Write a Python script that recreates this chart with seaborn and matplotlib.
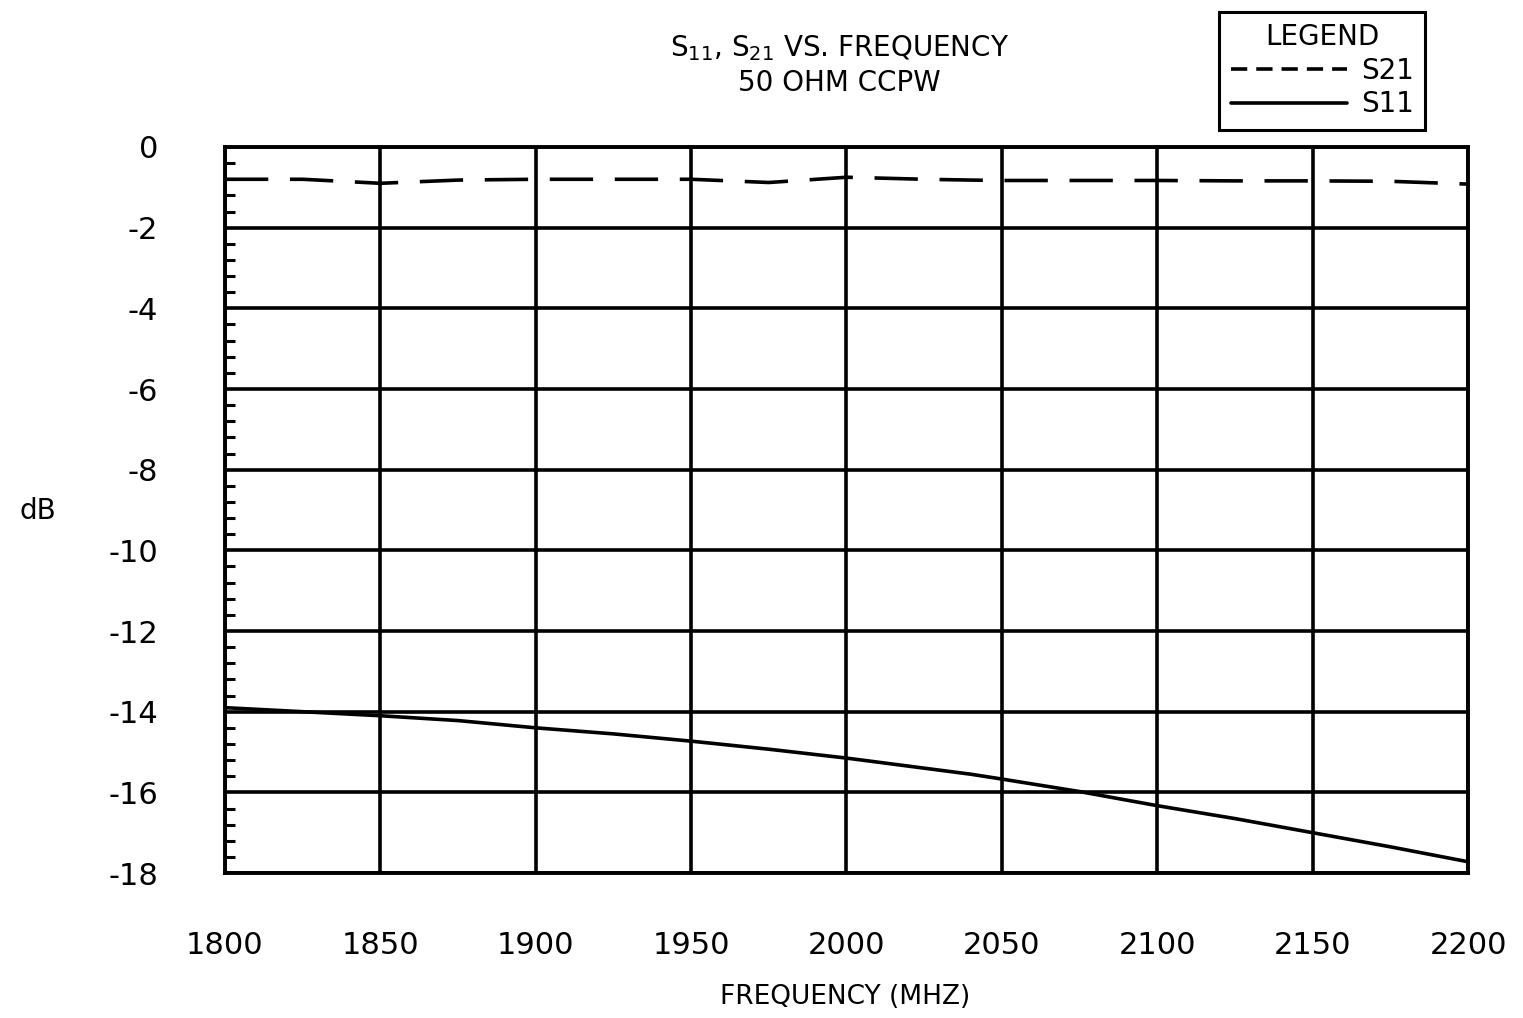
import numpy as np
import pandas as pd
import matplotlib
matplotlib.use("Agg")
import matplotlib.pyplot as plt
import seaborn as sns
from matplotlib.ticker import MultipleLocator

# values
freq = [1800, 1825, 1850, 1875, 1900, 1925, 1950, 1975, 2000, 2025,
        2040, 2050, 2075, 2100, 2125, 2150, 2175, 2200]
s11 = [-13.9, -14.0, -14.1, -14.22, -14.4, -14.55, -14.73, -14.93, -15.15, -15.4,
       -15.55, -15.67, -15.98, -16.33, -16.65, -17.0, -17.35, -17.72]
s21 = [-0.8, -0.8, -0.9, -0.82, -0.8, -0.8, -0.8, -0.88, -0.75, -0.8,
       -0.82, -0.83, -0.83, -0.83, -0.84, -0.84, -0.85, -0.92]

x_ticks = [1800, 1850, 1900, 1950, 2000, 2050, 2100, 2150, 2200]
y_ticks = [0, -2, -4, -6, -8, -10, -12, -14, -16, -18]

sns.set_theme(style="white")
plt.rcParams['font.family'] = ['DejaVu Sans']
plt.rcParams['text.color'] = 'black'
plt.rcParams['xtick.color'] = 'black'
plt.rcParams['ytick.color'] = 'black'
plt.rcParams['axes.labelcolor'] = 'black'

df = pd.DataFrame({'freq': freq, 'S21': s21, 'S11': s11})

fig = plt.figure(figsize=(15.23, 10.18), dpi=100)
ax = fig.add_axes([0.1477, 0.1424, 0.8162, 0.7132])

sns.lineplot(data=df, x='freq', y='S21', ax=ax, color='black', lw=2.6,
             label='S21')
ax.lines[-1].set_dashes([12, 6])
sns.lineplot(data=df, x='freq', y='S11', ax=ax, color='black', lw=2.6,
             label='S11')

ax.set_xlim(1800, 2200)
ax.set_ylim(-18, 0)
ax.set_xticks(x_ticks)
ax.set_yticks(y_ticks)
ax.set_yticklabels([str(v) for v in y_ticks])
ax.yaxis.set_minor_locator(MultipleLocator(0.4))
ax.grid(True, which='major', color='black', lw=2.6)
ax.tick_params(axis='both', which='major', length=0, labelsize=22)
ax.tick_params(axis='x', pad=42)
ax.tick_params(axis='y', pad=48)
ax.tick_params(axis='y', which='minor', direction='in', length=7,
               width=2.2, color='black', left=True)
for s in ax.spines.values():
    s.set_color('black')
    s.set_linewidth(2.8)

ax.set_xlabel('')
ax.set_ylabel('')
fig.text(0.555, 0.021, 'FREQUENCY (MHZ)', fontsize=19, ha='center', va='center')
fig.text(0.025, 0.498, 'dB', fontsize=20, ha='center', va='center')

fig.text(0.551, 0.953, 'S$_{11}$, S$_{21}$ VS. FREQUENCY', fontsize=20,
         ha='center', va='center')
fig.text(0.551, 0.918, '50 OHM CCPW', fontsize=20, ha='center', va='center')

leg = ax.legend(title='LEGEND', loc='upper right',
                bbox_to_anchor=(0.9357, 0.988), bbox_transform=fig.transFigure,
                fontsize=20, title_fontsize=20, frameon=True, fancybox=False,
                handlelength=4.2, handletextpad=0.5,
                borderpad=0.4, labelspacing=0.2, borderaxespad=0,
                framealpha=1)
leg.get_frame().set_edgecolor('black')
leg.get_frame().set_linewidth(2.2)
leg.get_lines()[0].set_dashes([4.5, 2.5])

fig.savefig('out.png', dpi=100, facecolor='white')
